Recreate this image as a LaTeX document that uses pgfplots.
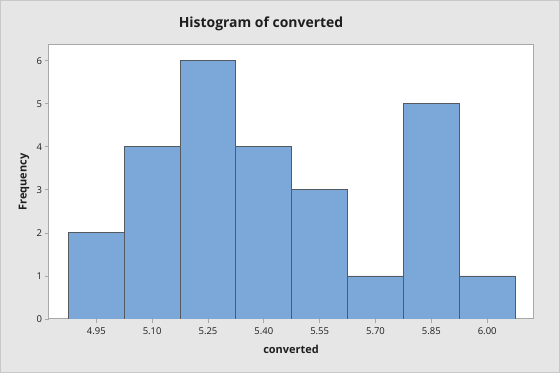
\documentclass[border=0pt]{standalone}
\usepackage{pgfplots}
\pgfplotsset{compat=1.18}
\usepackage{fontspec}
\setmainfont{Open Sans}
\definecolor{bg}{HTML}{E6E6E6}
\definecolor{outer}{HTML}{C8C8C8}
\definecolor{framecol}{HTML}{A8A8A8}
\definecolor{barfill}{HTML}{7CA7D9}
\definecolor{baredge}{HTML}{555A60}
\definecolor{txt}{HTML}{1E1E1E}
\begin{document}
\begin{tikzpicture}
\fill[bg] (0,0) rectangle (560bp,373bp);
\draw[outer, line width=1bp] (0.5bp,0.5bp) rectangle (559.5bp,372.5bp);
\node[txt, font=\fontsize{14}{16}\selectfont\bfseries] at (261bp,349bp) {Histogram of converted};
\begin{axis}[
  at={(49bp,54bp)}, anchor=south west,
  width=484bp, height=274bp, scale only axis,
  xmin=4.823, xmax=6.123, ymin=0, ymax=6.365,
  axis background/.style={fill=white},
  axis line style={framecol, line width=1bp},
  tick align=outside, xtick pos=bottom, ytick pos=left,
  major tick length=4.5bp,
  tick style={framecol, line width=0.8bp},
  xtick={4.95,5.10,5.25,5.40,5.55,5.70,5.85,6.00},
  xticklabels={4.95,5.10,5.25,5.40,5.55,5.70,5.85,6.00},
  ytick={0,1,2,3,4,5,6},
  yticklabel style={font=\fontsize{9.5}{11}\selectfont, text=txt, xshift=1bp},
  xticklabel style={font=\fontsize{9.5}{11}\selectfont, text=txt, yshift=-1bp},
  /pgf/number format/assume math mode=true,
]
\addplot[ybar interval, fill=barfill, draw=baredge, line width=0.9bp] coordinates {
  (4.875,2) (5.025,4) (5.175,6) (5.325,4) (5.475,3) (5.625,1) (5.775,5) (5.925,1) (6.075,1)
};
\end{axis}
\node[txt, font=\fontsize{11}{13}\selectfont\bfseries] at (291bp,24bp) {converted};
\node[txt, rotate=90, font=\fontsize{11}{13}\selectfont\bfseries] at (24bp,191bp) {Frequency};
\useasboundingbox (0,0) rectangle (560bp,373bp);
\end{tikzpicture}
\end{document}
